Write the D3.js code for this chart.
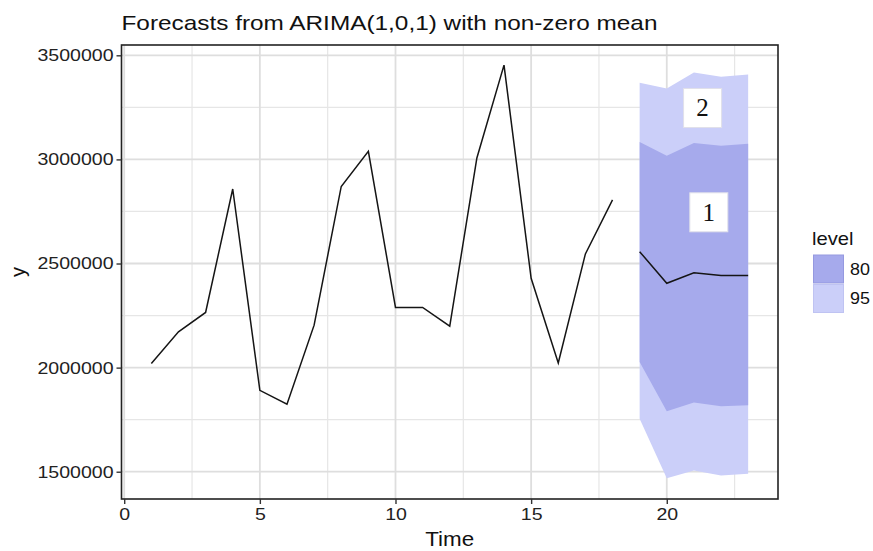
<!DOCTYPE html>
<html>
<head>
<meta charset="utf-8">
<script src="https://cdn.jsdelivr.net/npm/d3@7"></script>
<style>
  html, body { margin: 0; padding: 0; background: #fff; }
  svg { display: block; font-family: "Liberation Sans", Arial, sans-serif; }
</style>
</head>
<body>
<svg id="chart" width="873" height="551"></svg>
<script>
// Observed series
const time = [1,2,3,4,5,6,7,8,9,10,11,12,13,14,15,16,17,18];
const sales = [2020000,2172000,2265000,2858000,1891000,1824000,2204000,2870000,3039000,
               2289000,2289000,2199000,3007000,3453000,2429000,2022000,2546000,2806000];

// Forecast horizon with point forecasts and prediction intervals
const fcTime = [19,20,21,22,23];
const fcMean = [2557000,2405000,2456000,2443000,2443000];
const lo80 = [2027000,1790000,1833000,1814000,1819000];
const hi80 = [3084000,3018000,3079000,3066000,3075000];
const lo95 = [1755000,1469000,1506000,1482000,1490000];
const hi95 = [3368000,3340000,3417000,3397000,3408000];

// Tick labels
const xTicks = [0,5,10,15,20];
const xMinor = [2.5,7.5,12.5,17.5,22.5];
const yTicks = [1500000,2000000,2500000,3000000,3500000];
const yMinor = [1750000,2250000,2750000,3250000];

// Legend levels and annotation labels
const levels = ["80","95"];
const levelColors = ["#a6aaec","#cbcff9"];
const noteText = ["2","1"];
const noteX = [21.32,21.55];
const noteY = [3247000,2746000];

const title = "Forecasts from ARIMA(1,0,1) with non-zero mean";

const svg = d3.select("#chart");
const panel = {left: 121.5, right: 778, top: 45, bottom: 499};

// Widen glyphs horizontally about each text's anchor point
function stretch(sel, sx) {
  sel.each(function() {
    const t = d3.select(this);
    const ax = +(t.attr("x") || 0);
    t.attr("transform", `translate(${ax * (1 - sx)},0) scale(${sx},1)`);
  });
}

const x = d3.scaleLinear().domain([-0.1, 24.1]).range([panel.left, panel.right]);
const y = d3.scaleLinear().domain([1369000, 3549500]).range([panel.bottom, panel.top]);

// Grid
const grid = svg.append("g");
grid.selectAll(".xmin").data(xMinor).join("line")
  .attr("x1", d => x(d)).attr("x2", d => x(d))
  .attr("y1", panel.top).attr("y2", panel.bottom)
  .attr("stroke", "#e6e6e6").attr("stroke-width", 1.2);
grid.selectAll(".ymin").data(yMinor).join("line")
  .attr("y1", d => y(d)).attr("y2", d => y(d))
  .attr("x1", panel.left).attr("x2", panel.right)
  .attr("stroke", "#e6e6e6").attr("stroke-width", 1.2);
grid.selectAll(".xmaj").data(xTicks).join("line")
  .attr("x1", d => x(d)).attr("x2", d => x(d))
  .attr("y1", panel.top).attr("y2", panel.bottom)
  .attr("stroke", "#dedede").attr("stroke-width", 1.8);
grid.selectAll(".ymaj").data(yTicks).join("line")
  .attr("y1", d => y(d)).attr("y2", d => y(d))
  .attr("x1", panel.left).attr("x2", panel.right)
  .attr("stroke", "#dedede").attr("stroke-width", 1.8);

// Prediction interval bands
const area95 = d3.area().x((d, i) => x(fcTime[i])).y0((d, i) => y(lo95[i])).y1((d, i) => y(hi95[i]));
const area80 = d3.area().x((d, i) => x(fcTime[i])).y0((d, i) => y(lo80[i])).y1((d, i) => y(hi80[i]));
svg.append("path").datum(fcTime).attr("d", area95).attr("fill", levelColors[1]);
svg.append("path").datum(fcTime).attr("d", area80).attr("fill", levelColors[0]);

// Series and point forecast lines
const line = d3.line().x(d => x(d[0])).y(d => y(d[1]));
svg.append("path").datum(time.map((t, i) => [t, sales[i]]))
  .attr("d", line).attr("fill", "none").attr("stroke", "#151515").attr("stroke-width", 1.5);
svg.append("path").datum(fcTime.map((t, i) => [t, fcMean[i]]))
  .attr("d", line).attr("fill", "none").attr("stroke", "#151515").attr("stroke-width", 1.5);

// Annotation labels
const notes = svg.append("g");
noteText.forEach((t, i) => {
  const cx = x(noteX[i]), cy = y(noteY[i]);
  notes.append("rect").attr("x", cx - 19).attr("y", cy - 19.5).attr("width", 38).attr("height", 39)
    .attr("fill", "#fff").attr("stroke", "#e0e0ea").attr("stroke-width", 1);
  notes.append("text").attr("x", cx).attr("y", cy + 8.5)
    .attr("text-anchor", "middle")
    .attr("font-family", "'Liberation Serif', 'Times New Roman', serif")
    .attr("font-size", 25).attr("fill", "#111").text(t);
});

// Panel border
svg.append("rect").attr("x", panel.left).attr("y", panel.top)
  .attr("width", panel.right - panel.left).attr("height", panel.bottom - panel.top)
  .attr("fill", "none").attr("stroke", "#222").attr("stroke-width", 1.6);

// Axes
const xAxis = svg.append("g").attr("transform", `translate(0,${panel.bottom})`)
  .call(d3.axisBottom(x).tickValues(xTicks).tickSize(5).tickPadding(4).tickFormat(d3.format("d")));
const yAxis = svg.append("g").attr("transform", `translate(${panel.left},0)`)
  .call(d3.axisLeft(y).tickValues(yTicks).tickSize(5).tickPadding(3).tickFormat(d3.format("d")));
[xAxis, yAxis].forEach(a => {
  a.select(".domain").remove();
  a.selectAll(".tick line").attr("stroke", "#333").attr("stroke-width", 1.4);
  a.selectAll(".tick text").attr("fill", "#222").attr("font-size", 17)
    .attr("font-family", "'Liberation Sans', Arial, sans-serif");
  stretch(a.selectAll(".tick text"), 1.15);
});

// Titles
stretch(svg.append("text").attr("x", panel.left).attr("y", 30)
  .attr("font-size", 21).attr("fill", "#111").text(title), 1.16);
stretch(svg.append("text").attr("x", (panel.left + panel.right) / 2).attr("y", 546)
  .attr("text-anchor", "middle").attr("font-size", 20).attr("fill", "#111").text("Time"), 1.12);
svg.append("text").attr("transform", `translate(25,${(panel.top + panel.bottom) / 2}) rotate(-90)`)
  .attr("text-anchor", "middle").attr("font-size", 20).attr("fill", "#111").text("y");

// Legend
const legend = svg.append("g").attr("transform", "translate(812,0)");
stretch(legend.append("text").attr("x", 0).attr("y", 245).attr("font-size", 18).attr("fill", "#111").text("level"), 1.12);
levels.forEach((lv, i) => {
  legend.append("rect").attr("x", 1.5).attr("y", 255 + i * 29.5).attr("width", 30).attr("height", 28)
    .attr("fill", levelColors[i]).attr("stroke", i === 0 ? "#9599e0" : "#bfc3f2").attr("stroke-width", 1);
  stretch(legend.append("text").attr("x", 38).attr("y", 275 + i * 29.5)
    .attr("font-size", 16).attr("fill", "#111").text(lv), 1.12);
});
</script>
</body>
</html>
